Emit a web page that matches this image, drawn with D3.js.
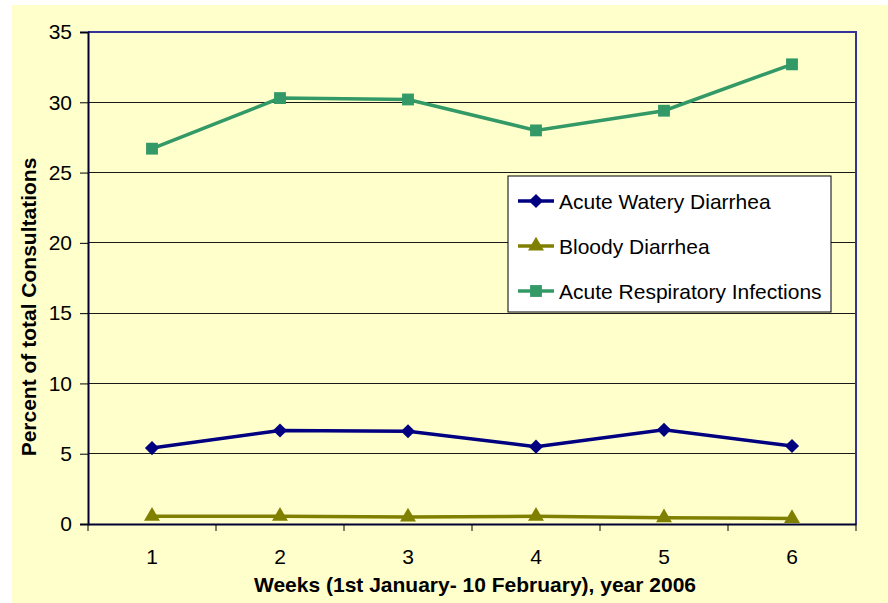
<!DOCTYPE html>
<html>
<head>
<meta charset="utf-8">
<script src="https://cdn.jsdelivr.net/npm/d3@7"></script>
<style>
  body { margin: 0; background: #fff; }
  svg { font-family: "Liberation Sans", Arial, sans-serif; }
</style>
</head>
<body>
<svg class="chart"></svg>
<script>
var weeks = ["1", "2", "3", "4", "5", "6"];
var awd = [5.4, 6.65, 6.6, 5.5, 6.7, 5.55];
var bloody = [0.55, 0.55, 0.5, 0.55, 0.45, 0.4];
var ari = [26.7, 30.3, 30.2, 28.0, 29.4, 32.7];
var yTicks = [0, 5, 10, 15, 20, 25, 30, 35];

// diamond = square turned 45 degrees
var series = [
  { name: "Acute Watery Diarrhea", values: awd, color: "#000080", symbol: d3.symbolSquare, size: 100, rot: 45 },
  { name: "Bloody Diarrhea", values: bloody, color: "#808000", symbol: d3.symbolTriangle, size: 110, rot: 0 },
  { name: "Acute Respiratory Infections", values: ari, color: "#339966", symbol: d3.symbolSquare, size: 140, rot: 0 }
];

var svg = d3.select(".chart").attr("width", 888).attr("height", 603);

svg.append("rect")
  .attr("x", 12).attr("y", 5)
  .attr("width", 876).attr("height", 598)
  .attr("fill", "#FFFFCC");

var plotLeft = 88, plotRight = 856, plotTop = 32, plotBottom = 524;
var fontSize = 21;

var x = d3.scaleBand().domain(weeks).range([plotLeft, plotRight]);
var y = d3.scaleLinear().domain([0, 35]).range([plotBottom, plotTop]);

// gridlines
svg.append("g").selectAll("line").data(yTicks.slice(1)).enter().append("line")
  .attr("x1", plotLeft).attr("x2", plotRight)
  .attr("y1", function(d) { return y(d); })
  .attr("y2", function(d) { return y(d); })
  .attr("stroke", "#1a1a1a")
  .attr("stroke-width", 1)
  .attr("shape-rendering", "crispEdges");

// plot border (top + right)
svg.append("path")
  .attr("d", "M" + plotLeft + "," + plotTop + "H" + plotRight + "V" + plotBottom)
  .attr("fill", "none")
  .attr("stroke", "#333399")
  .attr("stroke-width", 2);

// y axis
var yAxis = svg.append("g")
  .attr("transform", "translate(" + plotLeft + ",0)")
  .call(d3.axisLeft(y).tickValues(yTicks).tickSize(8).tickPadding(8));
yAxis.select(".domain").attr("stroke", "#000033").attr("stroke-width", 2);
yAxis.selectAll(".tick line").attr("stroke", "#000");
yAxis.selectAll("text")
  .attr("font-size", fontSize)
  .attr("font-family", "Liberation Sans, Arial, sans-serif")
  .attr("fill", "#000");

// x axis
var xAxis = svg.append("g")
  .attr("transform", "translate(0," + plotBottom + ")")
  .call(d3.axisBottom(x).tickSize(0).tickPadding(25));
xAxis.select(".domain").attr("stroke", "#000033").attr("stroke-width", 2);
xAxis.selectAll("text")
  .attr("font-size", fontSize)
  .attr("font-family", "Liberation Sans, Arial, sans-serif")
  .attr("fill", "#000");

// category boundary ticks
var bounds = weeks.map(function(w) { return x(w); }).concat([plotRight]);
svg.append("g").selectAll("line").data(bounds).enter().append("line")
  .attr("x1", function(d) { return d; })
  .attr("x2", function(d) { return d; })
  .attr("y1", plotBottom).attr("y2", plotBottom + 7)
  .attr("stroke", "#000");

// lines and markers
var line = d3.line()
  .x(function(d, i) { return x(weeks[i]) + x.bandwidth() / 2; })
  .y(function(d) { return y(d); });

series.forEach(function(s) {
  svg.append("path")
    .datum(s.values)
    .attr("d", line)
    .attr("fill", "none")
    .attr("stroke", s.color)
    .attr("stroke-width", 3.5);

  svg.append("g").selectAll("path").data(s.values).enter().append("path")
    .attr("d", d3.symbol().type(s.symbol).size(s.size))
    .attr("transform", function(d, i) {
      return "translate(" + (x(weeks[i]) + x.bandwidth() / 2) + "," + y(d) + ") rotate(" + s.rot + ")";
    })
    .attr("fill", s.color);
});

// axis titles
svg.append("text")
  .attr("x", 475).attr("y", 592)
  .attr("text-anchor", "middle")
  .attr("font-size", fontSize)
  .attr("font-weight", "bold")
  .text("Weeks (1st January- 10 February), year 2006");

svg.append("text")
  .attr("transform", "translate(36,307) rotate(-90)")
  .attr("text-anchor", "middle")
  .attr("font-size", fontSize)
  .attr("font-weight", "bold")
  .text("Percent of total Consultations");

// legend
var legend = svg.append("g");
legend.append("rect")
  .attr("x", 508).attr("y", 176)
  .attr("width", 323).attr("height", 136)
  .attr("fill", "#fff")
  .attr("stroke", "#000")
  .attr("stroke-width", 1);

var items = legend.selectAll(".item").data(series).enter().append("g")
  .attr("class", "item")
  .attr("transform", function(d, i) { return "translate(0," + (201 + i * 45) + ")"; });

items.append("line")
  .attr("x1", 518).attr("x2", 554)
  .attr("stroke", function(d) { return d.color; })
  .attr("stroke-width", 3.5);
items.append("path")
  .attr("d", function(d) { return d3.symbol().type(d.symbol).size(d.size)(); })
  .attr("transform", function(d) { return "translate(536,0) rotate(" + d.rot + ")"; })
  .attr("fill", function(d) { return d.color; });
items.append("text")
  .attr("x", 559).attr("y", 7.5)
  .attr("font-size", fontSize)
  .text(function(d) { return d.name; });
</script>
</body>
</html>
